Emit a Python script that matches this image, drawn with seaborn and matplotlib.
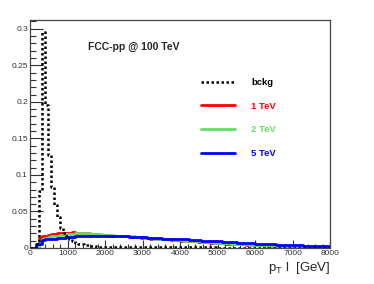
import matplotlib
matplotlib.use("Agg")
import matplotlib.pyplot as plt
from matplotlib.ticker import MultipleLocator, FuncFormatter
import numpy as np
import pandas as pd
import seaborn as sns

# 100 bins of 80 GeV from 0 to 8000 GeV, normalised histograms
n_bins = 100
x_min, x_max = 0, 8000
bin_width = 80

bckg = [
    0, 0, 0.005, 0.078, 0.295, 0.196, 0.127, 0.084, 0.059, 0.042,
    0.028, 0.020, 0.016, 0.012, 0.009, 0.007, 0.006, 0.005, 0.004, 0.0035,
    0.003, 0.0025, 0.002, 0.002, 0.0018, 0.0016, 0.0015, 0.0014, 0.0013, 0.0012,
    0.0011, 0.0011, 0.001, 0.001, 0.001, 0.001, 0.001, 0.001, 0.0009, 0.0009,
    0.0009, 0.0009, 0.0009, 0.0009, 0.0008, 0.0008, 0.0008, 0.0008, 0.0008, 0.0008,
    0.0008, 0.0008, 0.0007, 0.0007, 0.0007, 0.0007, 0.0007, 0.0007, 0.0007, 0.0007,
    0.0007, 0.0007, 0.0006, 0.0006, 0.0006, 0.0006, 0.0006, 0.0006, 0.0006, 0.0006,
    0.0006, 0.0006, 0.0006, 0.0006, 0.0005, 0.0005, 0.0005, 0.0005, 0.0005, 0.0005,
    0.0005, 0.0005, 0.0005, 0.0005, 0.0005, 0.0005, 0.0005, 0.0005, 0.0005, 0.0005,
    0.0005, 0.0005, 0.0005, 0.0005, 0.0005, 0.0005, 0.0005, 0.0005, 0.0005, 0.0005,
]

sig_1tev = [
    0, 0, 0.002, 0.014, 0.016, 0.017, 0.018, 0.019, 0.019, 0.020,
    0.020, 0.021, 0.021, 0.021, 0.022, 0.021, 0.021, 0.020, 0.020, 0.020,
    0.019, 0.019, 0.019, 0.018, 0.018, 0.018, 0.017, 0.017, 0.017, 0.016,
    0.016, 0.016, 0.016, 0.015, 0.015, 0.015, 0.015, 0.014, 0.014, 0.014,
    0.013, 0.013, 0.013, 0.012, 0.012, 0.012, 0.012, 0.011, 0.011, 0.011,
    0.010, 0.010, 0.010, 0.0095, 0.009, 0.009, 0.0088, 0.0085, 0.008, 0.008,
    0.0075, 0.0072, 0.007, 0.0068, 0.0065, 0.006, 0.006, 0.0058, 0.0055, 0.0052,
    0.005, 0.0048, 0.0046, 0.0044, 0.0042, 0.004, 0.0038, 0.0036, 0.0035, 0.0033,
    0.0032, 0.003, 0.0029, 0.0028, 0.0027, 0.0026, 0.0025, 0.0024, 0.0023, 0.0022,
    0.0021, 0.002, 0.002, 0.0019, 0.0018, 0.0018, 0.0017, 0.0016, 0.0016, 0.0015,
]

sig_2tev = [
    0, 0, 0.001, 0.010, 0.013, 0.014, 0.015, 0.016, 0.017, 0.017,
    0.018, 0.018, 0.019, 0.019, 0.019, 0.020, 0.020, 0.020, 0.020, 0.020,
    0.019, 0.019, 0.019, 0.019, 0.018, 0.018, 0.018, 0.018, 0.017, 0.017,
    0.017, 0.016, 0.016, 0.016, 0.016, 0.015, 0.015, 0.015, 0.014, 0.014,
    0.014, 0.013, 0.013, 0.013, 0.013, 0.012, 0.012, 0.012, 0.011, 0.011,
    0.011, 0.010, 0.010, 0.010, 0.0095, 0.0092, 0.009, 0.0087, 0.0084, 0.008,
    0.0078, 0.0075, 0.0072, 0.007, 0.0067, 0.0064, 0.0062, 0.006, 0.0057, 0.0055,
    0.0053, 0.005, 0.0048, 0.0046, 0.0044, 0.0042, 0.004, 0.0039, 0.0037, 0.0036,
    0.0034, 0.0033, 0.0032, 0.003, 0.0029, 0.0028, 0.0027, 0.0026, 0.0025, 0.0024,
    0.0023, 0.0022, 0.0022, 0.0021, 0.002, 0.002, 0.0019, 0.0018, 0.0018, 0.0017,
]

sig_5tev = [
    0, 0, 0.005, 0.006, 0.011, 0.012, 0.012, 0.013, 0.013, 0.014,
    0.014, 0.014, 0.015, 0.015, 0.015, 0.016, 0.016, 0.016, 0.017, 0.017,
    0.017, 0.017, 0.017, 0.017, 0.017, 0.017, 0.016, 0.016, 0.016, 0.016,
    0.016, 0.016, 0.016, 0.015, 0.015, 0.015, 0.015, 0.015, 0.015, 0.014,
    0.014, 0.014, 0.014, 0.014, 0.013, 0.013, 0.013, 0.013, 0.013, 0.012,
    0.012, 0.012, 0.012, 0.011, 0.011, 0.011, 0.011, 0.010, 0.010, 0.010,
    0.010, 0.0095, 0.0092, 0.009, 0.0088, 0.0085, 0.0082, 0.008, 0.0078, 0.0075,
    0.0072, 0.007, 0.0068, 0.0065, 0.0062, 0.006, 0.0058, 0.0056, 0.0054, 0.0052,
    0.005, 0.0048, 0.0046, 0.0045, 0.0043, 0.0042, 0.004, 0.0039, 0.0038, 0.0036,
    0.0035, 0.0034, 0.0033, 0.0032, 0.0031, 0.003, 0.003, 0.0029, 0.0028, 0.0027,
]

samples = ["bckg", "1 TeV", "2 TeV", "5 TeV"]
colors = ["black", "#ff0000", "#66dd66", "#0000ff"]
styles = [(0, (1, 1)), "-", "-", "-"]
widths = [1.8, 2.0, 2.0, 2.0]
draw_order = ["1 TeV", "2 TeV", "5 TeV", "bckg"]

centers = x_min + bin_width * (np.arange(n_bins) + 0.5)
df = pd.DataFrame({
    "pt": np.tile(centers, 4),
    "w": bckg + sig_1tev + sig_2tev + sig_5tev,
    "sample": np.repeat(samples, n_bins),
})

sns.set_theme(style="ticks")
plt.rcParams["font.family"] = ["Liberation Sans", "DejaVu Sans"]
plt.rcParams["mathtext.fontset"] = "custom"
plt.rcParams["mathtext.rm"] = "Liberation Sans"
plt.rcParams["mathtext.it"] = "Liberation Sans"

fig = plt.figure(figsize=(3.74, 2.84), dpi=100)
ax = fig.add_axes([30 / 374, 1 - 248 / 284, 300 / 374, 228 / 284])

handles = {}
for name in draw_order:
    i = samples.index(name)
    sub = df[df["sample"] == name]
    n_before = len(ax.lines)
    sns.histplot(data=sub, x="pt", weights="w", binwidth=bin_width,
                 binrange=(x_min, x_max), element="step",
                 fill=False, color=colors[i], linestyle=styles[i],
                 linewidth=widths[i], ax=ax)
    handles[name] = ax.lines[n_before] if len(ax.lines) > n_before else ax.patches[-1]

ax.set_xlim(x_min, x_max)
ax.set_ylim(0, 0.312)
ax.set_ylabel("")
ax.set_xlabel(r"$p_{T}$ l  [GeV]", fontsize=9.5, loc="right", labelpad=2)

ax.xaxis.set_major_locator(MultipleLocator(1000))
ax.xaxis.set_minor_locator(MultipleLocator(200))
ax.yaxis.set_major_locator(MultipleLocator(0.05))
ax.yaxis.set_minor_locator(MultipleLocator(0.01))
ax.yaxis.set_major_formatter(FuncFormatter(lambda v, p: "%g" % round(v, 3)))
ax.tick_params(which="both", direction="in", labelsize=6, colors="#333333",
               top=False, right=False)
ax.tick_params(axis="y", which="major", length=9, width=0.8, pad=1.5)
ax.tick_params(axis="y", which="minor", length=4.5, width=0.8)
ax.tick_params(axis="x", which="major", length=6, width=0.8, pad=1.5)
ax.tick_params(axis="x", which="minor", length=3, width=0.8)
for s in ax.spines.values():
    s.set_color("#444444")
    s.set_linewidth(0.9)

ax.text(58 / 300, 1 - (47 - 20) / 228, "FCC-pp @ 100 TeV",
        transform=ax.transAxes, fontsize=7.5, fontweight="bold", va="center")

leg = ax.legend([handles[n] for n in samples], samples, loc="upper left",
                bbox_to_anchor=(201 / 374, 1 - 78 / 284),
                bbox_transform=fig.transFigure, frameon=False,
                prop={"weight": "bold", "size": 6.8}, labelcolor="linecolor",
                handlelength=3.6, handletextpad=1.7, labelspacing=1.55,
                borderpad=0, borderaxespad=0)

fig.savefig("out.png", dpi=100)
